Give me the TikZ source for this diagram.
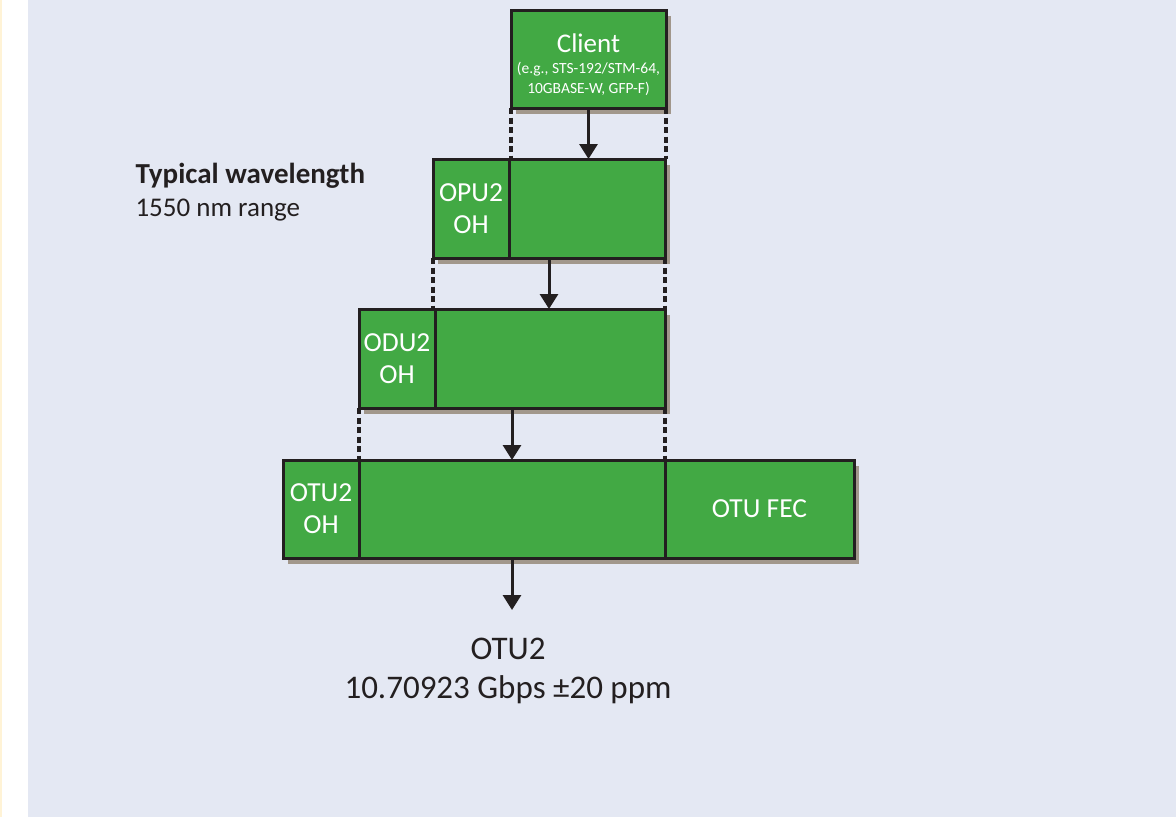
\documentclass[tikz,border=0pt]{standalone}
\usepackage{fontspec}
\setmainfont{Carlito}
\usetikzlibrary{positioning,calc,arrows.meta,shadows}
\definecolor{page}{HTML}{E4E8F3}
\definecolor{leaf}{HTML}{42A944}
\definecolor{ink}{HTML}{231F20}
\definecolor{shade}{HTML}{A1978B}
\definecolor{rim}{HTML}{FFF3D6}

\begin{document}
\begin{tikzpicture}[x=1pt,y=-1pt,
  cell/.style={draw=ink,fill=leaf,line width=3pt,text=white,align=center,
    inner sep=0pt,outer sep=0pt,font=\fontsize{27.5}{32}\selectfont,minimum height=99pt,
    drop shadow={shadow xshift=5pt,shadow yshift=-6pt,fill=shade,opacity=1}},
  link/.style={draw=ink,line width=3.6pt,dash pattern=on 6pt off 3.5pt},
  flow/.style={-{Triangle[length=15pt,width=18pt]},draw=ink,line width=3pt},
  note/.style={font=\fontsize{27}{33}\selectfont,text=ink,align=left,anchor=west}]
  \useasboundingbox (0,0) rectangle (1176,817);
  \fill[white] (0,0) rectangle (28,817);
  \fill[rim] (0,0) rectangle (2,817);
  \fill[page] (28,0) rectangle (1176,817);
  % frames, top to bottom
  \node[cell,minimum width=155pt,minimum height=98pt] (client) at (588.5,59) {};
  \node[text=white,align=center,font=\fontsize{15.5}{20.5}\selectfont] (clienttxt) at (client.center)
    [yshift=-6pt] {{\fontsize{27}{27}\selectfont Client}\\(e.g., STS-192/STM-64,\\10GBASE-W, GFP-F)};
  \node[cell,minimum width=76pt] (opuoh) at (471,208.5) {OPU2\\OH};
  \node[cell,minimum width=156pt] (opupl) at (587,208.5) {};
  \node[cell,minimum width=76pt] (oduoh) at (397,358.5) {ODU2\\OH};
  \node[cell,minimum width=230pt] (odupl) at (550,358.5) {};
  \node[cell,minimum width=76pt,minimum height=98pt] (otuoh) at (321,509) {OTU2\\OH};
  \node[cell,minimum width=306pt,minimum height=98pt] (otupl) at (512,509) {};
  \node[cell,minimum width=189pt,minimum height=98pt] (otufec) at (759.5,509) {OTU FEC};
  \node[note] (wave) at (132,192) {\textbf{\fontsize{29}{33}\selectfont Typical wavelength}\\1550 nm range};
  \node[align=center,text=ink,font=\fontsize{33}{39}\selectfont] (rate) at (508,671)
    {OTU2\\10.70923 Gbps ±20 ppm};
  % dotted guides between frames
  \draw[link] (client.south west) -- (client.south west |- opupl.north);
  \draw[link] (client.south east) -- (client.south east |- opupl.north);
  \draw[link] (opuoh.south west) -- (opuoh.south west |- oduoh.north);
  \draw[link] (opupl.south east) -- (opupl.south east |- odupl.north);
  \draw[link] (oduoh.south west) -- (oduoh.south west |- otupl.north);
  \draw[link] (odupl.south east) -- (odupl.south east |- otufec.north west);
  % mapping arrows
  \coordinate (opumid) at ($(opuoh.south west)!0.5!(opupl.south east)$);
  \coordinate (odumid) at ($(oduoh.south west)!0.5!(odupl.south east)$);
  \draw[flow] (client.south) -- (client.south |- opupl.north);
  \draw[flow] (opumid) -- (opumid |- odupl.north);
  \draw[flow] (odumid) -- (odumid |- otupl.north);
  \draw[flow] (otupl.south) -- ++(0,-52pt);
\end{tikzpicture}
\end{document}
